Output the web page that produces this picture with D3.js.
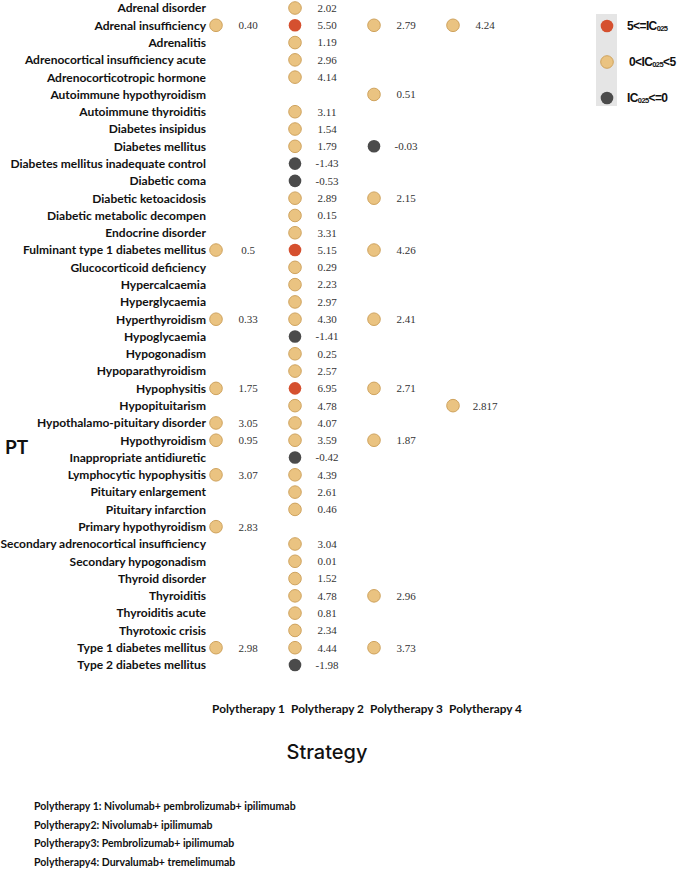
<!DOCTYPE html>
<html>
<head>
<meta charset="utf-8">
<script src="https://cdn.jsdelivr.net/npm/d3@7"></script>
<style>
  body { margin: 0; background: #fff; }
  svg text { fill: #111; }
</style>
</head>
<body>
<div id="chart"></div>
<script>
// PT names (rows)
const pts = [
  "Adrenal disorder", "Adrenal insufficiency", "Adrenalitis", "Adrenocortical insufficiency acute",
  "Adrenocorticotropic hormone", "Autoimmune hypothyroidism", "Autoimmune thyroiditis", "Diabetes insipidus",
  "Diabetes mellitus", "Diabetes mellitus inadequate control", "Diabetic coma", "Diabetic ketoacidosis",
  "Diabetic metabolic decompen", "Endocrine disorder", "Fulminant type 1 diabetes mellitus", "Glucocorticoid deficiency",
  "Hypercalcaemia", "Hyperglycaemia", "Hyperthyroidism", "Hypoglycaemia", "Hypogonadism", "Hypoparathyroidism",
  "Hypophysitis", "Hypopituitarism", "Hypothalamo-pituitary disorder", "Hypothyroidism", "Inappropriate antidiuretic",
  "Lymphocytic hypophysitis", "Pituitary enlargement", "Pituitary infarction", "Primary hypothyroidism",
  "Secondary adrenocortical insufficiency", "Secondary hypogonadism", "Thyroid disorder", "Thyroiditis",
  "Thyroiditis acute", "Thyrotoxic crisis", "Type 1 diabetes mellitus", "Type 2 diabetes mellitus"
];

const strategies = ["Polytherapy 1", "Polytherapy 2", "Polytherapy 3", "Polytherapy 4"];

// IC025 values per strategy, as printed (null = not reported)
const poly1 = [null,"0.40",null,null,null,null,null,null,null,null,null,null,null,null,"0.5",null,
  null,null,"0.33",null,null,null,"1.75",null,"3.05","0.95",null,"3.07",null,null,"2.83",
  null,null,null,null,null,null,"2.98",null];
const poly2 = ["2.02","5.50","1.19","2.96","4.14",null,"3.11","1.54","1.79","-1.43","-0.53","2.89",
  "0.15","3.31","5.15","0.29","2.23","2.97","4.30","-1.41","0.25","2.57","6.95","4.78","4.07","3.59",
  "-0.42","4.39","2.61","0.46",null,"3.04","0.01","1.52","4.78","0.81","2.34","4.44","-1.98"];
const poly3 = [null,"2.79",null,null,null,"0.51",null,null,"-0.03",null,null,"2.15",null,null,"4.26",null,
  null,null,"2.41",null,null,null,"2.71",null,null,"1.87",null,null,null,null,null,
  null,null,null,"2.96",null,null,"3.73",null];
const poly4 = [null,"4.24",null,null,null,null,null,null,null,null,null,null,null,null,null,null,
  null,null,null,null,null,null,null,"2.817",null,null,null,null,null,null,null,
  null,null,null,null,null,null,null,null];

const footnotes = [
  "Polytherapy 1: Nivolumab+ pembrolizumab+ ipilimumab",
  "Polytherapy2: Nivolumab+ ipilimumab",
  "Polytherapy3: Pembrolizumab+ ipilimumab",
  "Polytherapy4: Durvalumab+ tremelimumab"
];

const columns = [poly1, poly2, poly3, poly4];

const colRed = "#d5502f", colTan = "#eac381", colDark = "#4b4b4b";
function classColor(v) {
  if (v >= 5) return colRed;
  if (v > 0) return colTan;
  return colDark;
}

const W = 685, H = 870;
const svg = d3.select("#chart").append("svg").attr("width", W).attr("height", H);

const y = d3.scalePoint().domain(pts).range([8, 665]);
const x = d3.scalePoint().domain(strategies).range([248, 485]);
const dotOffset = -32;

// flatten cells
const cells = [];
columns.forEach((col, j) => {
  col.forEach((v, i) => {
    if (v !== null) cells.push({ pt: pts[i], s: strategies[j], label: v, value: +v });
  });
});

// row labels
svg.append("g")
  .attr("transform", "translate(206,0)")
  .call(d3.axisLeft(y).tickSize(0).tickPadding(0))
  .call(g => g.select(".domain").remove())
  .selectAll("text")
  .attr("font-family", "Lato, sans-serif")
  .attr("font-weight", 700)
  .attr("font-size", "12px")
  .attr("fill", "#1a1a1a");

// column labels
svg.append("g")
  .attr("transform", "translate(0,705)")
  .call(d3.axisBottom(x).tickSize(0).tickPadding(0))
  .call(g => g.select(".domain").remove())
  .selectAll("text")
  .attr("font-family", "Lato, sans-serif")
  .attr("font-weight", 700)
  .attr("font-size", "11.8px")
  .attr("fill", "#1a1a1a");

// dots
svg.selectAll(".dot")
  .data(cells)
  .enter().append("circle")
  .attr("class", "dot")
  .attr("cx", d => x(d.s) + dotOffset)
  .attr("cy", d => y(d.pt))
  .attr("r", 6.3)
  .attr("fill", d => classColor(d.value))
  .attr("stroke", d => d.value > 0 && d.value < 5 ? "#cfa35e" : "none")
  .attr("stroke-width", 1);

// value labels
svg.selectAll(".val")
  .data(cells)
  .enter().append("text")
  .attr("class", "val")
  .attr("x", d => x(d.s))
  .attr("y", d => y(d.pt))
  .attr("dy", "0.35em")
  .attr("text-anchor", "middle")
  .attr("font-family", "'Liberation Serif', serif")
  .attr("font-size", "11px")
  .style("fill", "#333")
  .text(d => d.label);

// axis titles
svg.append("text")
  .attr("x", 5).attr("y", 454)
  .attr("font-family", "Lato, sans-serif")
  .attr("font-weight", 700)
  .attr("font-size", "19px")
  .text("PT");

svg.append("text")
  .attr("x", 327).attr("y", 759)
  .attr("text-anchor", "middle")
  .attr("font-family", "Inter, sans-serif")
  .attr("font-weight", 500)
  .attr("font-size", "20px")
  .text("Strategy");

// legend
const legendItems = [
  { color: colRed, pre: "5<=IC", sub: "025", post: "" },
  { color: colTan, pre: "0<IC", sub: "025", post: "<5" },
  { color: colDark, pre: "IC", sub: "025", post: "<=0" }
];
const legendY = d3.scalePoint().domain(d3.range(legendItems.length)).range([26, 98]);
const legend = svg.append("g");
legend.append("rect")
  .attr("x", 596).attr("y", 14).attr("width", 21).attr("height", 92)
  .attr("fill", "#e5e5e5");
legendItems.forEach((d, i) => {
  legend.append("circle")
    .attr("cx", 607).attr("cy", legendY(i)).attr("r", 6.3)
    .attr("fill", d.color)
    .attr("stroke", d.color === colTan ? "#cfa35e" : "none");
  const t = legend.append("text")
    .attr("x", i === 1 ? 629 : 627).attr("y", legendY(i)).attr("dy", "0.35em")
    .attr("font-family", "'Liberation Sans', sans-serif")
    .attr("font-weight", 700)
    .attr("font-size", "12px")
    .attr("letter-spacing", "-0.6px");
  t.append("tspan").text(d.pre);
  t.append("tspan").attr("font-size", "7.5px").attr("dy", "1").text(d.sub);
  if (d.post) t.append("tspan").attr("dy", "-1").text(d.post);
});

// footnotes
svg.selectAll(".foot")
  .data(footnotes)
  .enter().append("text")
  .attr("class", "foot")
  .attr("x", 34)
  .attr("y", (d, i) => 810 + i * 18.7)
  .attr("font-family", "Lato, sans-serif")
  .attr("font-weight", 700)
  .attr("font-size", "10.5px")
  .attr("fill", "#1a1a1a")
  .text(d => d);
</script>
</body>
</html>
